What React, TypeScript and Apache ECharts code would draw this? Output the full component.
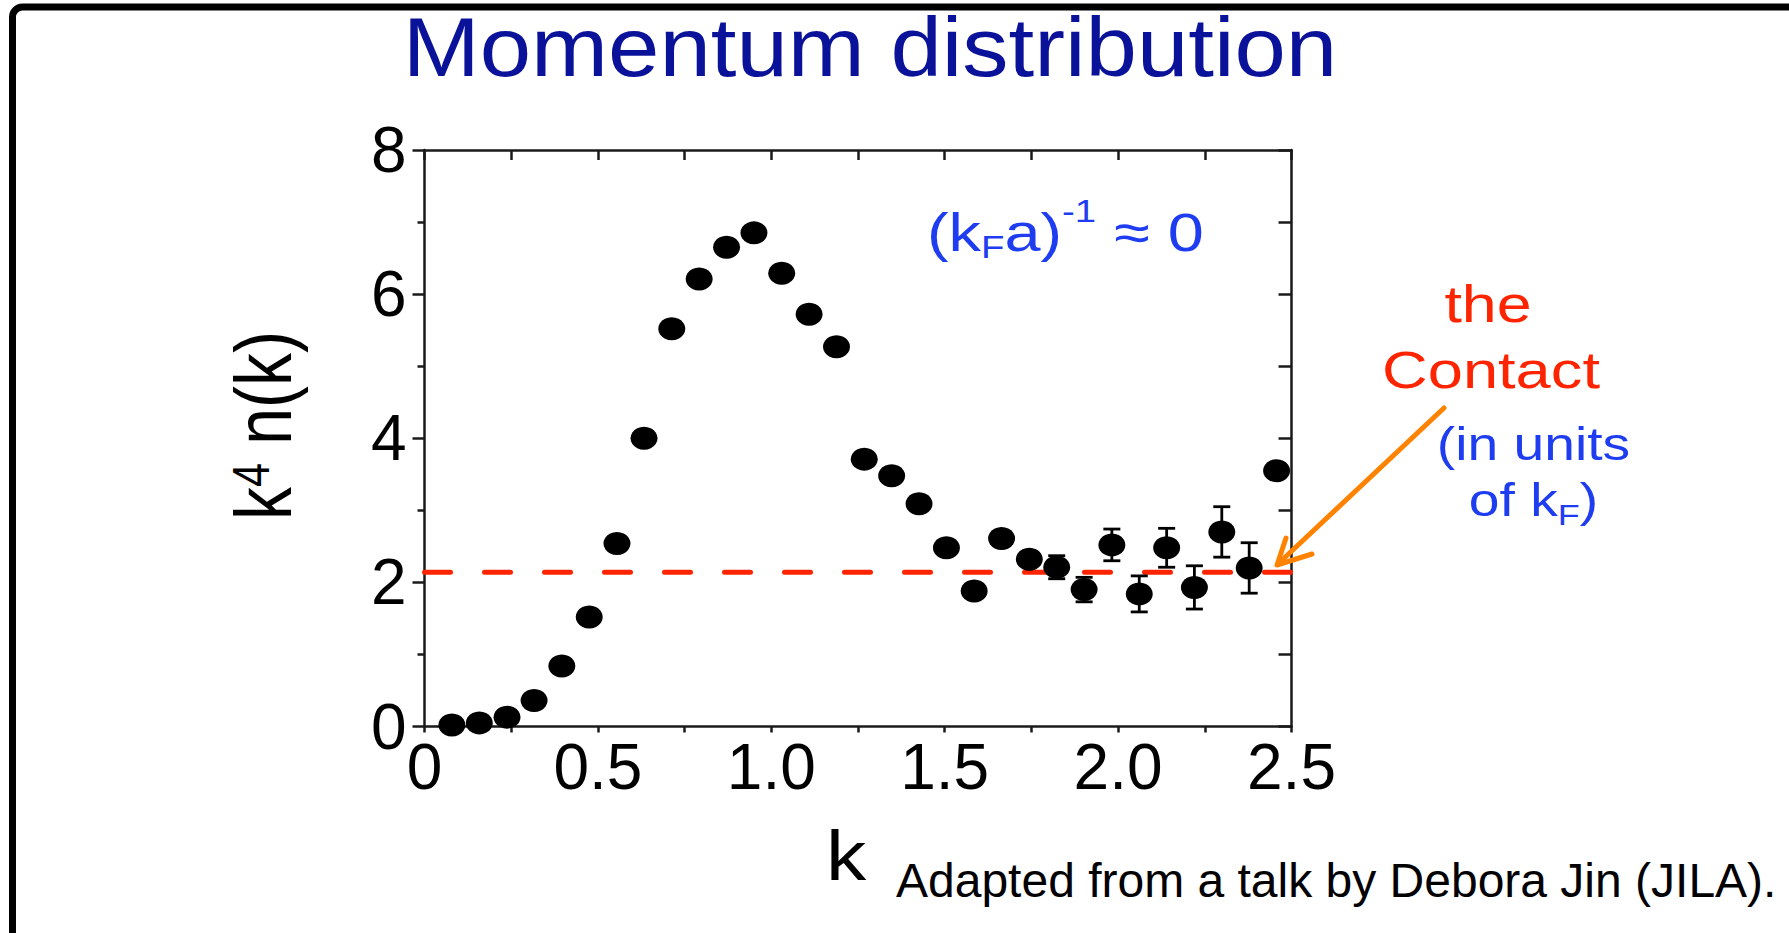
import React, { useEffect, useRef } from "react";
import * as echarts from "echarts";

// Measured momentum distribution k^4 n(k) versus k (units of k_F)
const kValues = [
  0.079, 0.158, 0.238, 0.316, 0.396, 0.475, 0.555, 0.633, 0.713, 0.792, 0.871,
  0.95, 1.03, 1.109, 1.188, 1.268, 1.347, 1.426, 1.505, 1.585, 1.664, 1.744,
  1.823, 1.902, 1.982, 2.061, 2.14, 2.22, 2.299, 2.378, 2.457,
];
const k4nValues = [
  0.02, 0.05, 0.13, 0.36, 0.84, 1.52, 2.54, 4.0, 5.52, 6.21, 6.65, 6.85, 6.29,
  5.72, 5.27, 3.71, 3.48, 3.09, 2.48, 1.88, 2.61, 2.32, 2.21, 1.9, 2.52, 1.84,
  2.48, 1.93, 2.7, 2.2, 3.55,
];
const errValues = [
  0, 0, 0, 0, 0, 0, 0, 0, 0, 0, 0, 0, 0, 0, 0, 0, 0, 0, 0, 0, 0, 0, 0.16, 0.17,
  0.22, 0.25, 0.27, 0.3, 0.35, 0.35, 0,
];
// Contact level (dashed line)
const contactLevel = 2.14;
const contactSpan = [0, 2.5];

const xRange = [0, 2.5];
const yRange = [0, 8];

const titleText = "Momentum distribution";
const footerText = "Adapted from a talk by Debora Jin (JILA).";

const FONT = '"Liberation Sans", Arial, sans-serif';
const MID = 0.35; // central baseline offset above the alphabetic baseline, in em

let measureCtx: CanvasRenderingContext2D | null = null;
function textWidth(t: string, size: number): number {
  if (!measureCtx) measureCtx = document.createElement("canvas").getContext("2d");
  if (!measureCtx) return t.length * size * 0.55;
  measureCtx.font = `${size}px "Liberation Sans"`;
  return measureCtx.measureText(t).width;
}

type Piece = { text: string; size: number; dy?: number };

// Lays out text pieces (with sub/superscripts) along a common baseline at local y = 0
function run(pieces: Piece[], fill: string) {
  let x = 0;
  const children = pieces.map((p) => {
    const el = {
      type: "text",
      x,
      y: (p.dy || 0) - MID * p.size,
      style: {
        text: p.text,
        fill,
        fontSize: p.size,
        fontFamily: FONT,
        align: "left",
        verticalAlign: "middle",
      },
    };
    x += textWidth(p.text, p.size);
    return el;
  });
  return { children, width: x };
}

function centeredRun(pieces: Piece[], fill: string, cx: number, baseline: number, sx: number) {
  const r = run(pieces, fill);
  return {
    type: "group",
    x: cx - (r.width * sx) / 2,
    y: baseline,
    scaleX: sx,
    children: r.children,
  };
}

function textLine(text: string, size: number, fill: string, x: number, baseline: number, sx: number, align = "left") {
  return {
    type: "text",
    x,
    y: baseline - MID * size,
    scaleX: sx,
    style: { text, fill, fontSize: size, fontFamily: FONT, align, verticalAlign: "middle" },
  };
}

export default function App() {
  const ref = useRef<HTMLDivElement>(null);

  useEffect(() => {
    if (!ref.current) return;
    const chart = echarts.init(ref.current, null, { renderer: "svg" });

    const axisColor = "#1a1a1a";
    const axisWidth = 2.5;
    const points = kValues.map((k, i) => [k, k4nValues[i]]);
    const errPoints = kValues
      .map((k, i) => [k, k4nValues[i], errValues[i]])
      .filter((d) => d[2] > 0);

    const blue = "#1e3cf0";
    const red = "#ff2400";

    const yTitle = run(
      [
        { text: "k", size: 66 },
        { text: "4", size: 43, dy: -18 },
        { text: " n(k)", size: 66 },
      ],
      "#000"
    );

    const paramRun = run(
      [
        { text: "(k", size: 54 },
        { text: "F", size: 32, dy: 7 },
        { text: "a)", size: 54 },
        { text: "-1", size: 32, dy: -29 },
        { text: " \u2248 0", size: 54 },
      ],
      blue
    );

    const option: any = {
      animation: false,
      backgroundColor: "#ffffff",
      grid: { left: 424.5, top: 150, width: 867, height: 576.5, containLabel: false },
      xAxis: [
        {
          type: "value",
          min: xRange[0],
          max: xRange[1],
          interval: 0.5,
          position: "bottom",
          axisLine: { show: true, onZero: false, lineStyle: { color: axisColor, width: axisWidth } },
          axisTick: { show: true, length: 6, lineStyle: { color: axisColor, width: axisWidth } },
          minorTick: { show: true, splitNumber: 2, length: 6, lineStyle: { color: axisColor, width: axisWidth } },
          splitLine: { show: false },
          axisLabel: {
            fontSize: 64,
            fontFamily: FONT,
            color: "#000",
            margin: 8,
            formatter: (v: number) => (v === 0 ? "0" : v.toFixed(1)),
          },
        },
        {
          type: "value",
          min: xRange[0],
          max: xRange[1],
          interval: 0.25,
          position: "top",
          axisLine: { show: true, onZero: false, lineStyle: { color: axisColor, width: axisWidth } },
          axisTick: { show: true, inside: true, length: 10, lineStyle: { color: axisColor, width: axisWidth } },
          splitLine: { show: false },
          axisLabel: { show: false },
        },
      ],
      yAxis: [
        {
          type: "value",
          min: yRange[0],
          max: yRange[1],
          interval: 2,
          position: "left",
          axisLine: { show: true, onZero: false, lineStyle: { color: axisColor, width: axisWidth } },
          axisTick: { show: true, length: 12, lineStyle: { color: axisColor, width: axisWidth } },
          minorTick: { show: true, splitNumber: 2, length: 7, lineStyle: { color: axisColor, width: axisWidth } },
          splitLine: { show: false },
          axisLabel: { fontSize: 64, fontFamily: FONT, color: "#000", margin: 18 },
        },
        {
          type: "value",
          min: yRange[0],
          max: yRange[1],
          interval: 1,
          position: "right",
          axisLine: { show: true, onZero: false, lineStyle: { color: axisColor, width: axisWidth } },
          axisTick: { show: true, inside: true, length: 13, lineStyle: { color: axisColor, width: axisWidth } },
          splitLine: { show: false },
          axisLabel: { show: false },
        },
      ],
      series: [
        {
          type: "line",
          xAxisIndex: 0,
          yAxisIndex: 0,
          data: contactSpan.map((k) => [k, contactLevel]),
          symbol: "none",
          silent: true,
          z: 1,
          lineStyle: { color: red, width: 5, type: [26, 34], cap: "round" },
        },
        {
          type: "custom",
          xAxisIndex: 0,
          yAxisIndex: 0,
          z: 2,
          data: errPoints,
          renderItem: (params: any, api: any) => {
            const x = api.value(0);
            const y = api.value(1);
            const e = api.value(2);
            const top = api.coord([x, y + e]);
            const bot = api.coord([x, y - e]);
            const cap = 8.5;
            const style = { stroke: "#000", lineWidth: 2.8 };
            return {
              type: "group",
              children: [
                { type: "line", shape: { x1: top[0], y1: top[1], x2: bot[0], y2: bot[1] }, style },
                { type: "line", shape: { x1: top[0] - cap, y1: top[1], x2: top[0] + cap, y2: top[1] }, style },
                { type: "line", shape: { x1: bot[0] - cap, y1: bot[1], x2: bot[0] + cap, y2: bot[1] }, style },
              ],
            };
          },
        },
        {
          type: "scatter",
          xAxisIndex: 0,
          yAxisIndex: 0,
          z: 3,
          data: points,
          symbol: "circle",
          symbolSize: [27, 23],
          itemStyle: { color: "#000", opacity: 1 },
        },
      ],
      graphic: [
        // slide frame
        {
          type: "rect",
          shape: { x: 12.5, y: 7, width: 2000, height: 2000, r: 10 },
          style: { fill: "none", stroke: "#000", lineWidth: 7 },
          z: 0,
        },
        textLine(titleText, 84, "#0a129a", 870, 76.5, 1.1, "center"),
        // y axis title, rotated
        {
          type: "group",
          x: 291.5,
          y: 520,
          rotation: Math.PI / 2,
          scaleY: 1.22,
          children: yTitle.children,
        },
        textLine("k", 70, "#000", 826, 880, 1.15, "left"),
        textLine(footerText, 48, "#000", 896, 897, 1, "left"),
        {
          type: "group",
          x: 927,
          y: 251,
          scaleX: 1.2,
          children: paramRun.children,
        },
        textLine("the", 51, red, 1488, 322, 1.23, "center"),
        textLine("Contact", 51, red, 1491, 388.5, 1.24, "center"),
        centeredRun([{ text: "(in units", size: 46 }], blue, 1533.5, 460, 1.2),
        centeredRun(
          [
            { text: "of k", size: 46 },
            { text: "F", size: 30, dy: 9 },
            { text: ")", size: 46 },
          ],
          blue,
          1533.5,
          516.5,
          1.2
        ),
        // arrow pointing at the contact level
        {
          type: "polyline",
          shape: { points: [[1444, 408], [1280, 562]] },
          style: { stroke: "#ff8200", lineWidth: 5, lineCap: "round", fill: "none" },
          z: 10,
        },
        {
          type: "polyline",
          shape: { points: [[1286, 538], [1277, 565], [1312, 554]] },
          style: { stroke: "#ff8200", lineWidth: 5, lineCap: "round", lineJoin: "round", fill: "none" },
          z: 10,
        },
      ],
    };

    chart.setOption(option);
    return () => chart.dispose();
  }, []);

  return (
    <div
      ref={ref}
      style={{ position: "fixed", left: 0, top: 0, width: 1789, height: 933, background: "#fff" }}
    />
  );
}
